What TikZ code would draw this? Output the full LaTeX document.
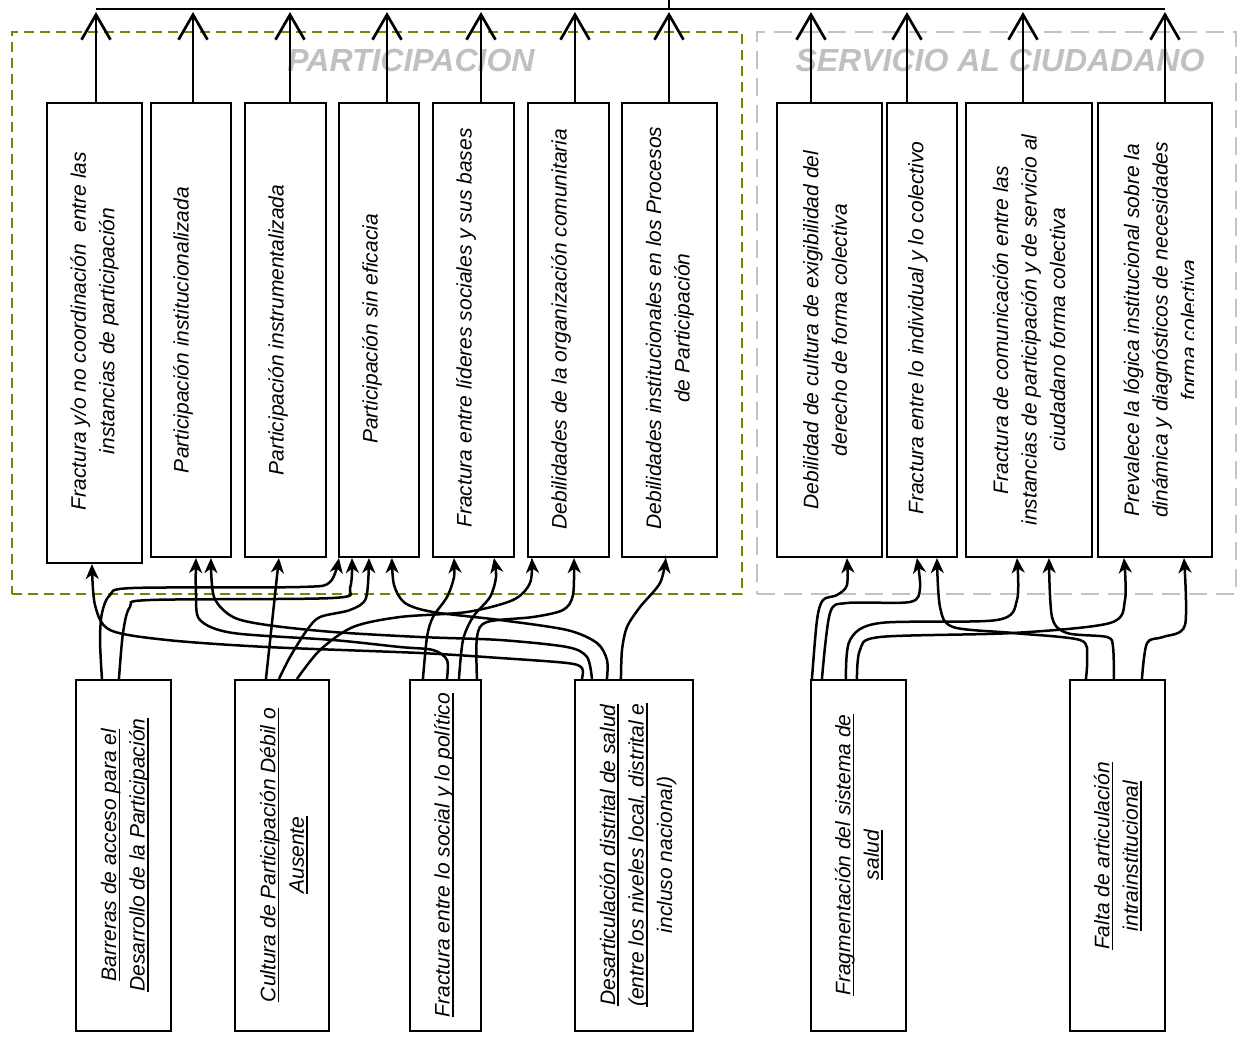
\documentclass[tikz,border=0pt]{standalone}
\usepackage{fontspec}
\setmainfont{Liberation Sans}
\usetikzlibrary{arrows.meta}
\definecolor{olivedash}{RGB}{128,128,0}
\definecolor{graydash}{RGB}{195,195,195}
\definecolor{titlegray}{RGB}{192,192,192}
\newcommand\myul[1]{\setbox0\hbox{#1}\rlap{\rule[-4pt]{\wd0}{1.6pt}}\box0}
\begin{document}
\begin{tikzpicture}[x=1pt,y=-1pt,
  box/.style={draw, line width=2.1pt, fill=white, inner sep=0pt},
  txt/.style={rotate=90, align=center, inner sep=0pt, font=\fontsize{21}{28.5}\selectfont\itshape},
  grouptitle/.style={font=\fontsize{32}{38}\selectfont\bfseries\itshape, text=titlegray, inner sep=0pt},
  frameP/.style={draw=olivedash, line width=2.2pt, dash pattern=on 10pt off 6pt, inner sep=0pt},
  frameS/.style={draw=graydash, line width=2.2pt, dash pattern=on 18pt off 9pt, inner sep=0pt},
  conn/.style={line width=2.5pt, -{Stealth[length=15pt,width=13pt,inset=4.5pt]}},
  uparrow/.style={line width=2.7pt, -{Straight Barb[length=25pt,width=29pt]}},
  busline/.style={line width=2.7pt}
]
\useasboundingbox (0,0) rectangle (1242,1036);

% group frames
\node[frameP, minimum width=730pt, minimum height=562pt] (gP) at (377,313) {};
\node[frameS, minimum width=479pt, minimum height=562pt] (gS) at (996.5,313) {};
\node[grouptitle] (tP) at (411,60) {PARTICIPACION};
\node[grouptitle] (tS) at (1000,60) {SERVICIO AL CIUDADANO};

% top boxes
\node[box, minimum width=95pt, minimum height=460pt] (T1) at (94.5,333) {};
\node[box, minimum width=80pt, minimum height=454pt] (T2) at (191,330) {};
\node[box, minimum width=81pt, minimum height=454pt] (T3) at (285.5,330) {};
\node[box, minimum width=80pt, minimum height=454pt] (T4) at (379,330) {};
\node[box, minimum width=81pt, minimum height=454pt] (T5) at (473.5,330) {};
\node[box, minimum width=81pt, minimum height=454pt] (T6) at (568.5,330) {};
\node[box, minimum width=95pt, minimum height=454pt] (T7) at (669.5,330) {};
\node[box, minimum width=105pt, minimum height=454pt] (T8) at (829.5,330) {};
\node[box, minimum width=70pt, minimum height=454pt] (T9) at (922,330) {};
\node[box, minimum width=126pt, minimum height=454pt] (T10) at (1029,330) {};
\node[box, minimum width=114pt, minimum height=454pt] (T11) at (1155,330) {};

\node[txt] (T1t) at (94.5,331) {Fractura y/o no coordinación\ \ entre las\\instancias de participación};
\node[txt] (T2t) at (183,330) {Participación institucionalizada};
\node[txt] (T3t) at (278,330) {Participación instrumentalizada};
\node[txt] (T4t) at (372,329) {Participación sin eficacia};
\node[txt] (T5t) at (466,328) {Fractura entre líderes sociales y sus bases};
\node[txt] (T6t) at (561,329) {Debilidades de la organización comunitaria};
\node[txt] (T7t) at (670,328) {Debilidades institucionales en los Procesos\\de Participación};
\node[txt] (T8t) at (825,330) {Debilidad de cultura de exigibilidad del\\derecho de forma colectiva};
\node[txt] (T9t) at (918,328) {Fractura entre lo individual y lo colectivo};
\node[txt] (T10t) at (1029,330) {Fractura de comunicación entre las\\instancias de participación y de servicio al\\ciudadano forma colectiva};
\begin{scope}
\clip (1098,103) rectangle (1193,557);
\node[txt] (T11t) at (1160,330) {Prevalece la lógica institucional sobre la\\dinámica y diagnósticos de necesidades\\forma colectiva};
\end{scope}

% bottom boxes
\node[box, minimum width=95pt, minimum height=351pt] (B1) at (123.5,855.5) {};
\node[box, minimum width=94pt, minimum height=351pt] (B2) at (282,855.5) {};
\node[box, minimum width=71pt, minimum height=351pt] (B3) at (445.5,855.5) {};
\node[box, minimum width=118pt, minimum height=351pt] (B4) at (634,855.5) {};
\node[box, minimum width=95pt, minimum height=351pt] (B5) at (858.5,855.5) {};
\node[box, minimum width=95pt, minimum height=351pt] (B6) at (1117.5,855.5) {};

\node[txt] (B1t) at (125,855) {\myul{Barreras de acceso para el}\\\myul{Desarrollo de la Participación}};
\node[txt] (B2t) at (284,855) {\myul{Cultura de Participación Débil o}\\\myul{Ausente}};
\node[txt] (B3t) at (444,855) {\myul{Fractura entre lo social y lo político}};
\node[txt] (B4t) at (638,855) {\myul{Desarticulación distrital de salud}\\\myul{(entre los niveles local, distrital e}\\incluso nacional)};
\node[txt] (B5t) at (859,855) {\myul{Fragmentación del sistema de}\\\myul{salud}};
\node[txt] (B6t) at (1118,856) {\myul{Falta de articulación}\\\myul{intrainstitucional}};

% bus at top
\coordinate (busL) at (96,9);
\coordinate (busR) at (1165,9);
\coordinate (busTop) at (669,0);
\coordinate (tipline) at (0,12);
\draw[busline] (busL) -- (busR);
\draw[busline] (busTop) -- (busTop |- busL);
\foreach \n/\d in {T1/1.5, T2/2, T3/4.5, T4/8, T5/7.5, T6/6.5, T7/-0.5, T8/-18.5, T9/-15, T10/-6, T11/10}
  \draw[uparrow] ([xshift=\d pt]\n.north) -- ([xshift=\d pt]\n.north |- tipline);

% connectors (left group)
\draw[conn] plot[smooth, tension=0.5] coordinates {([xshift=27pt]B1.north west) (100,640) (102,613) (110,595) (133,588) (300,587) (330,582) ([xshift=1pt]T4.south west)};
\draw[conn] plot[smooth, tension=0.5] coordinates {([xshift=44pt]B1.north west) (123,633) (130,607) (150,600) (333,598) (350,588) ([xshift=14pt]T4.south west)};
\draw[conn] ([xshift=32pt]B2.north west) -- ([xshift=35pt]T3.south west);
\draw[conn] plot[smooth, tension=0.5] coordinates {([xshift=45pt]B2.north west) (290,657) (307,630) (320,617) (350,610) (366,598) ([xshift=31pt]T4.south west)};
\draw[conn] plot[smooth, tension=0.5] coordinates {([xshift=63pt]B2.north west) (320,650) (353,627) (400,617) (467,612) (513,600) (530,583) ([xshift=5pt]T6.south west)};
\draw[conn] plot[smooth, tension=0.5] coordinates {([xshift=14pt]B3.north west) (427,637) (433,617) (447,597) (454,577) ([xshift=22pt]T5.south west)};
\draw[conn] plot[smooth, tension=0.5] coordinates {([xshift=38pt]B3.north west) (447,660) (433,650) (400,647) (333,640) (233,633) (200,620) (196,595) ([xshift=46pt]T2.south west)};
\draw[conn] plot[smooth, tension=0.5] coordinates {([xshift=50pt]B3.north west) (463,640) (473,617) (490,597) (496,577) ([xshift=62pt]T5.south west)};
\draw[conn] plot[smooth, tension=0.5] coordinates {([xshift=68pt]B3.north west) (477,637) (487,622) (533,617) (563,610) (573,595) ([xshift=47pt]T6.south west)};
\draw[conn] plot[smooth, tension=0.5] coordinates {([xshift=8pt]B4.north west) (582,668) (567,663) (500,658) (420,653) (267,647) (167,640) (110,630) (95,605) ([xshift=46pt]T1.south west)};
\draw[conn] plot[smooth, tension=0.5] coordinates {([xshift=18pt]B4.north west) (587,657) (567,647) (500,640) (420,637) (333,632) (267,625) (233,617) (214,597) ([xshift=61pt]T2.south west)};
\draw[conn] plot[smooth, tension=0.5] coordinates {([xshift=33pt]B4.north west) (607,660) (597,643) (567,630) (500,620) (433,612) (405,603) (394,585) ([xshift=54pt]T4.south west)};
\draw[conn] plot[smooth, tension=0.5] coordinates {([xshift=47pt]B4.north west) (622,650) (627,627) (640,607) (660,583) ([xshift=45pt]T7.south west)};

% connectors (right group)
\draw[conn] plot[smooth, tension=0.5] coordinates {([xshift=2pt]B5.north west) (817,620) (823,600) (837,595) (847,585) ([xshift=71pt]T8.south west)};
\draw[conn] plot[smooth, tension=0.5] coordinates {([xshift=12pt]B5.north west) (830,613) (847,603) (910,602) (920,588) ([xshift=31pt]T9.south west)};
\draw[conn] plot[smooth, tension=0.5] coordinates {([xshift=36pt]B5.north west) (850,640) (880,623) (997,620) (1017,600) ([xshift=52pt]T10.south west)};
\draw[conn] plot[smooth, tension=0.5] coordinates {([xshift=47pt]B5.north west) (860,650) (880,637) (1013,633) (1110,623) (1125,600) ([xshift=27pt]T11.south west)};
\draw[conn] plot[smooth, tension=0.5] coordinates {([xshift=17pt]B6.north west) (1087,657) (1080,640) (1013,633) (953,627) (940,607) ([xshift=51pt]T9.south west)};
\draw[conn] plot[smooth, tension=0.5] coordinates {([xshift=45pt]B6.north west) (1113,647) (1107,637) (1067,633) (1052,617) ([xshift=84pt]T10.south west)};
\draw[conn] plot[smooth, tension=0.5] coordinates {([xshift=73pt]B6.north west) (1147,643) (1163,637) (1185,625) ([xshift=87pt]T11.south west)};
\end{tikzpicture}
\end{document}
